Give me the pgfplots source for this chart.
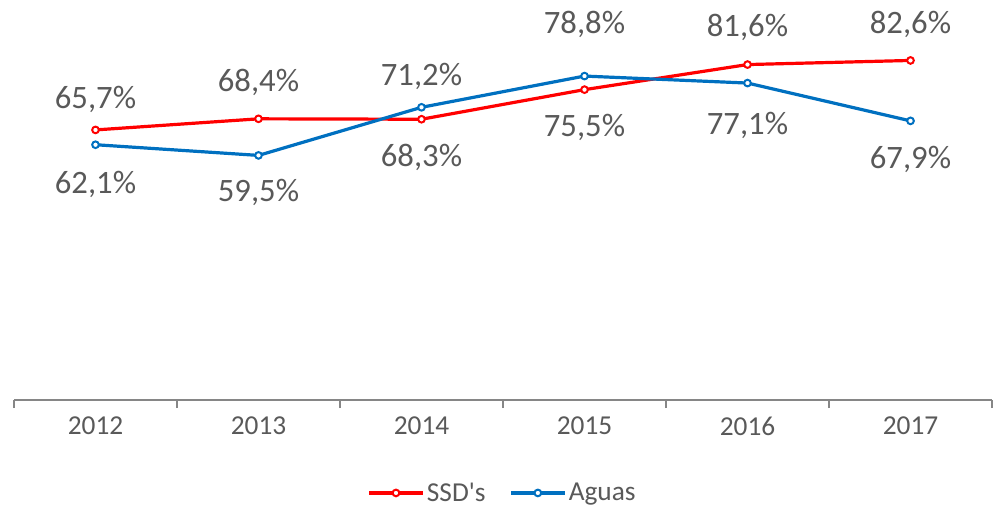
\documentclass[border=0pt]{standalone}
\usepackage{pgfplots}
\pgfplotsset{compat=1.18}
\usepackage{pgfplotstable}
\usepackage{fontspec}
\setmainfont{Carlito}
\definecolor{ssd}{HTML}{FF0000}
\definecolor{agu}{HTML}{0070C0}
\definecolor{txt}{HTML}{595959}
\definecolor{axc}{HTML}{868686}
\pgfplotstableread{
x y dy
0 65.7 23
1 68.4 27
2 68.3 -29
3 75.5 -28
4 81.6 28
5 82.6 27
}\ssdtab
\pgfplotstableread{
x y dy
0 62.1 -30
1 59.5 -28
2 71.2 23
3 78.8 39
4 77.1 -32
5 67.9 -29
}\agutab
\begin{document}
\begin{tikzpicture}
\path[use as bounding box] (0,0) rectangle (745.5pt,385.5pt);
\begin{axis}[
  at={(10.5pt,85.5pt)}, anchor=south west,
  scale only axis, width=733.5pt, height=292.9pt,
  xmin=-0.5, xmax=5.5, ymin=0, ymax=95,
  axis x line=bottom, axis y line=none,
  axis line style={-, axc, line width=1pt},
  xtick={0,...,5},
  xticklabels={2012,2013,2014,2015,2016,2017},
  major tick length=0pt,
  minor xtick={-0.5,0.5,...,5.5},
  minor tick length=6pt,
  tick align=outside,
  xtick pos=bottom,
  minor tick style={axc, line width=1pt},
  xticklabel style={font=\fontsize{20.5}{24}\selectfont, text=txt, yshift=-9pt},
  clip=false,
  nodes near coords={\pgfmathprintnumber[fixed,precision=1,fixed zerofill,use comma,assume math mode=true]{\pgfplotspointmeta}\%},
  point meta=y,
  visualization depends on={\thisrow{dy} \as \dy},
  every node near coord/.append style={anchor=center, yshift=\dy pt, font=\fontsize{24.5}{28}\selectfont, text=txt},
  legend style={at={(0.5,-0.238)}, anchor=center, draw=none, font=\fontsize{20.5}{24}\selectfont, text=txt,
    legend columns=2, /tikz/every even column/.append style={column sep=16pt}},
  legend image code/.code={
    \draw[#1, mark=none] (0cm,0cm) -- (40pt,0cm);
    \draw[#1, only marks] plot coordinates {(20pt,0cm)};
  },
]
\addplot[ssd, line width=2.4pt, mark=*, mark size=2.5pt, mark options={fill=white, line width=1.5pt}] table[x=x,y=y] {\ssdtab};
\addlegendentry{SSD\textquotesingle s}
\addplot[agu, line width=2.4pt, mark=*, mark size=2.5pt, mark options={fill=white, line width=1.5pt}] table[x=x,y=y] {\agutab};
\addlegendentry{Aguas}
\end{axis}
\end{tikzpicture}
\end{document}
